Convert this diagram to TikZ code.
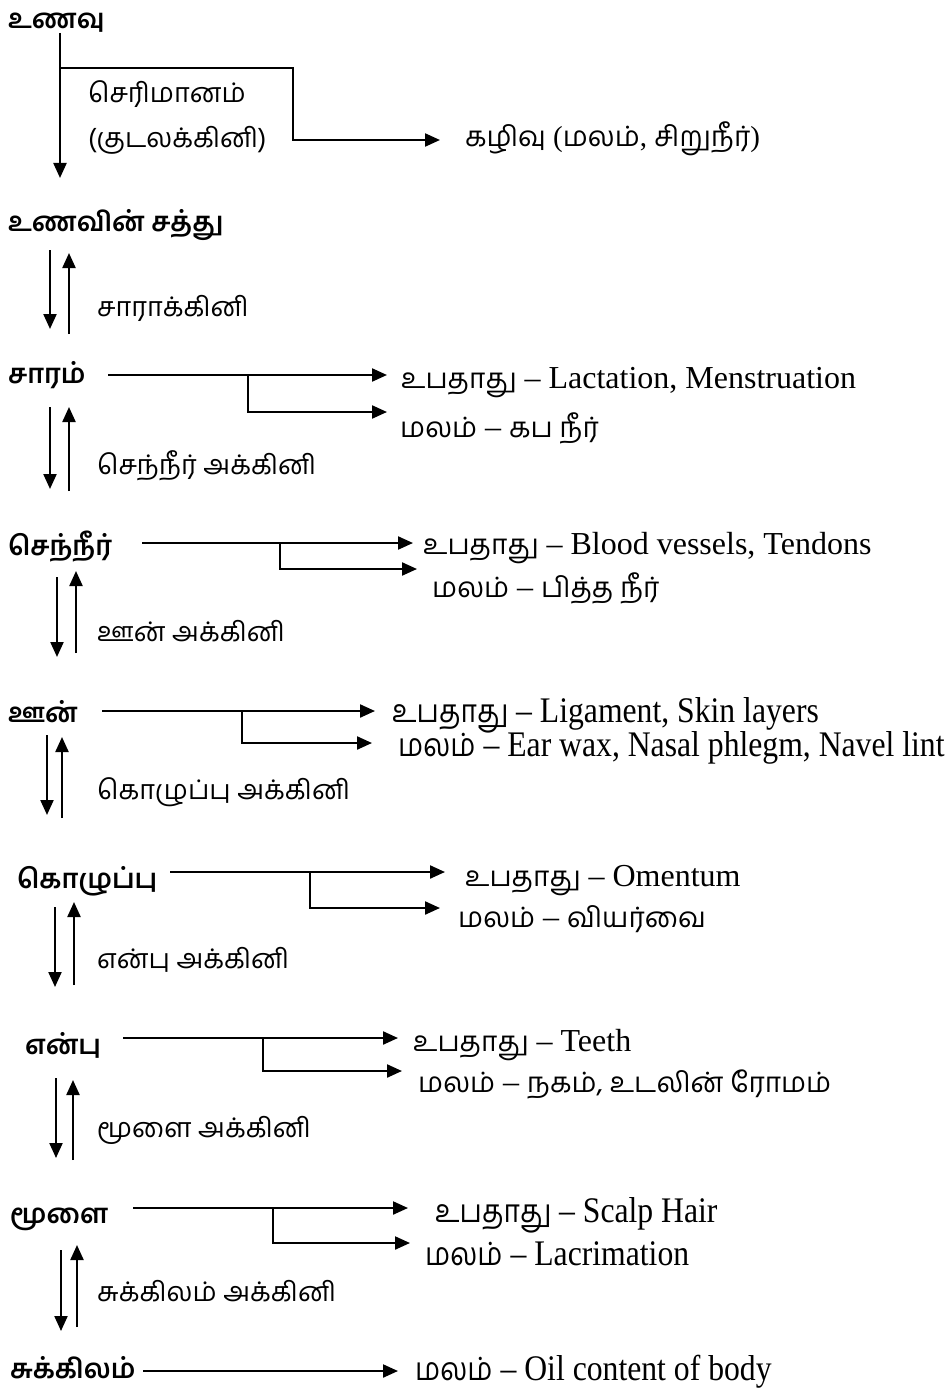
\documentclass[tikz,border=0pt]{standalone}
\usepackage{fontspec}
\setmainfont{Liberation Serif}
\newfontfamily\tam[Script=Tamil]{Hind Madurai}
\usetikzlibrary{arrows.meta}
\tikzset{
  ln/.style={line width=2.2pt},
  arr/.style={ln,-{Triangle[length=15pt,width=13pt]}},
  lbl/.style={anchor=base west,inner sep=0pt,font=\fontsize{27}{31}\selectfont\tam\bfseries},
  mid/.style={anchor=base west,inner sep=0pt,font=\fontsize{27}{32}\selectfont\tam},
  rt/.style={anchor=base west,inner sep=0pt,font=\fontsize{32}{36}\selectfont},
}
\newcommand{\tm}[1]{{\fontsize{28}{34}\selectfont\tam #1}}
\newcommand{\tmc}[1]{{\fontsize{32}{36}\selectfont\tam #1}}
\newcommand{\cnd}[1]{\scalebox{0.88}[1]{\fontsize{36}{40}\selectfont #1}}
\begin{document}
\begin{tikzpicture}[x=1pt,y=-1pt]
\useasboundingbox (0,0) rectangle (951,1391);
% left labels
\node[lbl] (unavu) at (8,29) {உணவு};
\node[lbl] (satthu) at (8,231) {உணவின் சத்து};
\node[lbl] (saram) at (8,383) {சாரம்};
\node[lbl] (senneer) at (8,555) {செந்நீர்};
\node[lbl] (oon) at (8,722) {ஊன்};
\node[lbl] (kozhuppu) at (17,888) {கொழுப்பு};
\node[lbl] (enbu) at (25,1054) {என்பு};
\node[lbl] (moolai) at (10,1223) {மூளை};
\node[lbl] (sukkilam) at (10,1378) {சுக்கிலம்};
% middle labels
\node[mid] (m0a) at (88,103) {செரிமானம்};
\node[mid] (m0b) at (88,148) {(குடலக்கினி)};
\node[mid] (m1) at (97,316) {சாராக்கினி};
\node[mid] (m2) at (97,474) {செந்நீர் அக்கினி};
\node[mid] (m3) at (97,641) {ஊன் அக்கினி};
\node[mid] (m4) at (97,799) {கொழுப்பு அக்கினி};
\node[mid] (m5) at (97,968) {என்பு அக்கினி};
\node[mid] (m6) at (97,1137) {மூளை அக்கினி};
\node[mid] (m7) at (97,1301) {சுக்கிலம் அக்கினி};
% right texts
\node[rt,font=\fontsize{29}{34}\selectfont] (r0) at (465,147) {\tm{கழிவு} (\tm{மலம்}, \tm{சிறுநீர்})};
\node[rt] (r1a) at (401,388) {\tm{உபதாது} – Lactation, Menstruation};
\node[rt] (r1b) at (400,437) {\tm{மலம்} – \tm{கப நீர்}};
\node[rt] (r2a) at (423,554) {\tm{உபதாது} – Blood vessels, Tendons};
\node[rt] (r2b) at (432,597) {\tm{மலம்} – \tm{பித்த நீர்}};
\node[rt] (r3a) at (392,722) {\cnd{\tmc{உபதாது} – Ligament, Skin layers}};
\node[rt] (r3b) at (398,756) {\cnd{\tmc{மலம்} – Ear wax, Nasal phlegm, Navel lint}};
\node[rt] (r4a) at (465,886) {\tm{உபதாது} – Omentum};
\node[rt] (r4b) at (458,927) {\tm{மலம்} – \tm{வியர்வை}};
\node[rt] (r5a) at (413,1051) {\tm{உபதாது} – Teeth};
\node[rt] (r5b) at (418,1092) {\tm{மலம்} – \tm{நகம், உடலின் ரோமம்}};
\node[rt] (r6a) at (435,1222) {\cnd{\tmc{உபதாது} – Scalp Hair}};
\node[rt] (r6b) at (425,1265) {\cnd{\tmc{மலம்} – Lacrimation}};
\node[rt] (r7) at (415,1380) {\cnd{\tmc{மலம்} – Oil content of body}};
% coordinates: top
\coordinate (t0) at (60,33); \coordinate (t1) at (60,178);
\coordinate (k0) at (61,68); \coordinate (k1) at (293,140); \coordinate (k2) at (440,140);
% vertical pairs
\coordinate (d1a) at (50,250); \coordinate (d1b) at (50,329);
\coordinate (u1a) at (69,334); \coordinate (u1b) at (69,253);
\coordinate (d2a) at (50,407); \coordinate (d2b) at (50,489);
\coordinate (u2a) at (69,491); \coordinate (u2b) at (69,407);
\coordinate (d3a) at (57,577); \coordinate (d3b) at (57,657);
\coordinate (u3a) at (76,653); \coordinate (u3b) at (76,571);
\coordinate (d4a) at (47,735); \coordinate (d4b) at (47,815);
\coordinate (u4a) at (62,818); \coordinate (u4b) at (62,737);
\coordinate (d5a) at (55,907); \coordinate (d5b) at (55,987);
\coordinate (u5a) at (74,985); \coordinate (u5b) at (74,902);
\coordinate (d6a) at (56,1078); \coordinate (d6b) at (56,1158);
\coordinate (u6a) at (73,1160); \coordinate (u6b) at (73,1080);
\coordinate (d7a) at (61,1250); \coordinate (d7b) at (61,1331);
\coordinate (u7a) at (77,1327); \coordinate (u7b) at (77,1245);
% horizontal
\coordinate (h1s) at (108,375); \coordinate (h1e) at (387,375); \coordinate (h1b) at (248,375); \coordinate (h1f) at (387,412);
\coordinate (h2s) at (142,543); \coordinate (h2e) at (413,543); \coordinate (h2b) at (280,543); \coordinate (h2f) at (417,569);
\coordinate (h3s) at (102,711); \coordinate (h3e) at (375,711); \coordinate (h3b) at (242,711); \coordinate (h3f) at (372,743);
\coordinate (h4s) at (170,872); \coordinate (h4e) at (445,872); \coordinate (h4b) at (310,872); \coordinate (h4f) at (440,908);
\coordinate (h5s) at (123,1038); \coordinate (h5e) at (398,1038); \coordinate (h5b) at (263,1038); \coordinate (h5f) at (402,1071);
\coordinate (h6s) at (133,1208); \coordinate (h6e) at (408,1208); \coordinate (h6b) at (273,1208); \coordinate (h6f) at (410,1243);
\coordinate (h7s) at (143,1371); \coordinate (h7e) at (398,1371);
% draw
\draw[arr] (t0) -- (t1);
\draw[arr] (k0) -| (k1) -- (k2);
\foreach \i in {1,...,7}{
  \draw[arr] (d\i a) -- (d\i b);
  \draw[arr] (u\i a) -- (u\i b);
  \draw[arr] (h\i s) -- (h\i e);
}
\foreach \i in {1,...,6}{
  \draw[arr] (h\i b) |- (h\i f);
}
\end{tikzpicture}
\end{document}
